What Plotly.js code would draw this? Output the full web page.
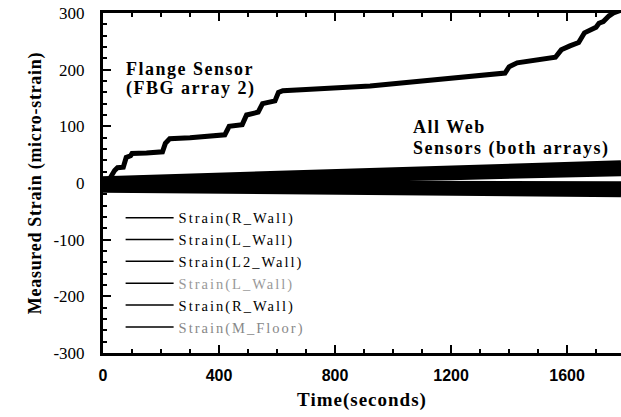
<!DOCTYPE html>
<html><head><meta charset="utf-8">
<script src="https://cdn.plot.ly/plotly-3.0.1.min.js"></script>
<style>
body{margin:0;background:#fff}#chart{width:621px;height:417px}
.legendtext{letter-spacing:2px}
.annotation-text{letter-spacing:1.5px}
.xtitle{letter-spacing:1px}
.ytitle{letter-spacing:0.7px}
</style>
</head><body><div id="chart"></div>
<script>
// Flange sensor (FBG array 2) staircase
const flangeTime = [0,20,40,50,70,80,95,100,150,205,215,230,300,420,435,480,495,535,550,593,605,620,700,921,1100,1386,1400,1428,1560,1580,1610,1640,1660,1700,1710,1725,1745,1760,1786];
const flangeStrain = [0,5,22,27,28,45,48,52,53,55,70,78,80,85,100,103,120,125,140,145,160,163,165,171,180,194,205,212,222,235,242,248,265,275,282,285,295,300,305];

// Web sensors (both arrays)
const webTime = [0,200,400,600,800,1000,1200,1400,1600,1786];
const webNames = ["Strain(R_Wall)","Strain(L_Wall)","Strain(L2_Wall)","Strain(L_Wall)","Strain(R_Wall)","Strain(M_Floor)"];
const web1 = [5,8,11,14,17,21,24,27,30,33];
const web2 = [4,6,8,10,13,15,18,20,22,25];
const web3 = [2,3,5,7,8,10,12,15,17,19];
const web4 = [-2,-2,-2,-2,-2,-3,-3,-4,-4,-4];
const web5 = [-6,-7,-9,-10,-11,-12,-13,-14,-15,-15];
const web6 = [-10,-11,-12,-13,-14,-15,-16,-17,-18,-18];
const webSeries = [web1,web2,web3,web4,web5,web6];
const legendColors = ["#000","#000","#000","#999","#000","#888"];

// Axis ticks
const xTickVals = [0,400,800,1200,1600];
const yTickVals = [-300,-200,-100,0,100,200,300];
const yTickText = ["-300","-200","-100","0","100","200","300"];

const traces = [];
webSeries.forEach((s,i)=>{
  traces.push({x:webTime,y:s,type:'scatter',mode:'lines',name:webNames[i],
    line:{color:'#000',width:8},showlegend:false,hoverinfo:'skip'});
});
traces.push({x:flangeTime,y:flangeStrain,type:'scatter',mode:'lines',name:'Flange Sensor',
  line:{color:'#000',width:5},showlegend:false});
webNames.forEach((n,i)=>{
  traces.push({x:[null],y:[null],type:'scatter',mode:'lines',
    name:'<span style="color:'+legendColors[i]+'">'+n+'</span>',
    line:{color:'#000',width:1.5},showlegend:true});
});

const serif = 'Liberation Serif, Times New Roman, serif';
const sans = 'Liberation Sans, Arial, sans-serif';
const annFont = {family:serif,size:18,color:'#000',weight:'bold'};
const layout = {
  width:621,height:417,
  margin:{l:103,r:0,t:13,b:64},
  paper_bgcolor:'#fff',plot_bgcolor:'#fff',
  showlegend:true,
  xaxis:{range:[0,1786],tickvals:xTickVals,ticks:'inside',ticklen:8,tickwidth:2,tickcolor:'#000',
    minor:{dtick:100,tick0:0,ticks:'inside',ticklen:4,tickwidth:2,tickcolor:'#000'},
    showline:true,linewidth:3,linecolor:'#000',mirror:'ticks',showgrid:false,zeroline:false,
    tickfont:{family:sans,size:16,color:'#000',weight:'bold'},ticklabelstandoff:6,
    title:{text:'Time(seconds)',font:{family:serif,size:19,color:'#000',weight:'bold'},standoff:10}},
  yaxis:{range:[-300,300],tickvals:yTickVals,ticktext:yTickText,ticks:'inside',ticklen:8,tickwidth:2,tickcolor:'#000',
    minor:{dtick:20,tick0:0,ticks:'inside',ticklen:4,tickwidth:2,tickcolor:'#000'},
    showline:true,linewidth:3,linecolor:'#000',showgrid:false,zeroline:false,
    tickfont:{family:serif,size:17,color:'#000'},ticklabelstandoff:12,
    title:{text:'Measured Strain (micro-strain)',font:{family:serif,size:18,color:'#000',weight:'bold'},standoff:8}},
  legend:{x:0.034,y:0.445,xanchor:'left',yanchor:'top',bgcolor:'rgba(0,0,0,0)',
    font:{family:serif,size:14.5,color:'#000'},itemwidth:48,tracegroupgap:0},
  annotations:[
    {x:72,y:201,xref:'x',yref:'y',text:'Flange Sensor',showarrow:false,xanchor:'left',yanchor:'middle',font:annFont},
    {x:72,y:166,xref:'x',yref:'y',text:'(FBG array 2)',showarrow:false,xanchor:'left',yanchor:'middle',font:annFont},
    {x:1062,y:98,xref:'x',yref:'y',text:'All Web',showarrow:false,xanchor:'left',yanchor:'middle',font:annFont},
    {x:1062,y:61,xref:'x',yref:'y',text:'Sensors (both arrays)',showarrow:false,xanchor:'left',yanchor:'middle',font:annFont}
  ]
};
Plotly.newPlot('chart',traces,layout,{displayModeBar:false,staticPlot:true});
</script></body></html>
